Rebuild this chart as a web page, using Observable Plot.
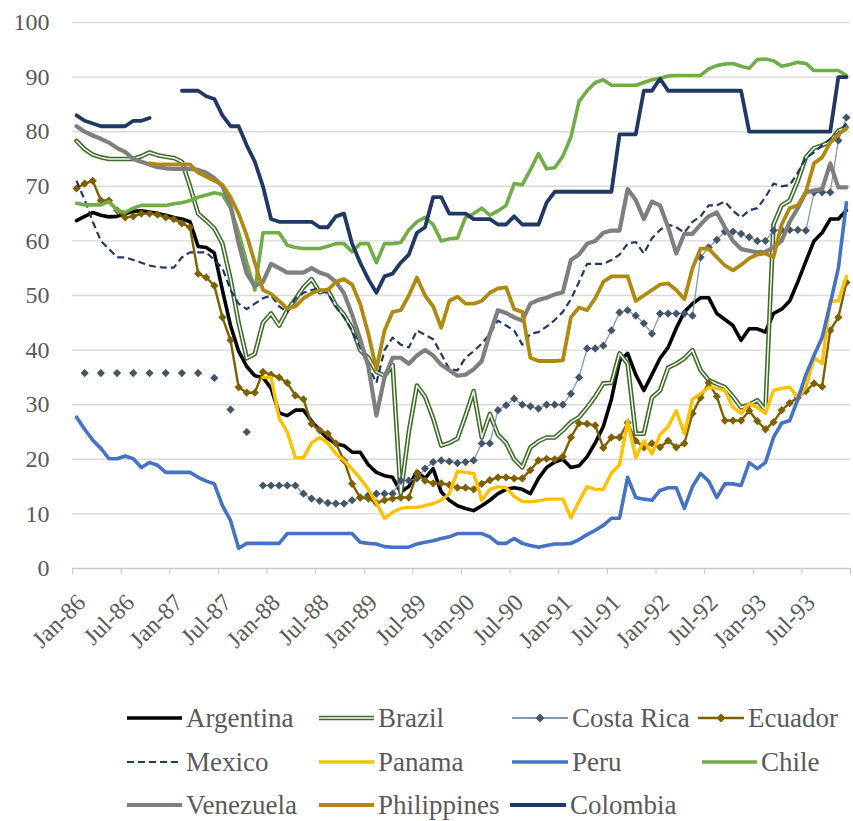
<!DOCTYPE html>
<html>
<head>
<meta charset="utf-8">
<script src="https://cdn.jsdelivr.net/npm/d3@7"></script>
<script src="https://cdn.jsdelivr.net/npm/@observablehq/plot@0.6"></script>
<style>
  html, body { margin: 0; padding: 0; background: #fff; }
  #wrap { width: 853px; height: 821px; position: relative; overflow: hidden; font-family: "Liberation Serif", "Times New Roman", serif; }
  #legend { position: relative; width: 853px; height: 161px; color: #595959; }
  .entry { position: absolute; display: flex; align-items: center; height: 34px; font-size: 27px; white-space: nowrap; }
  .entry svg { display: block; margin-right: 3px; }
</style>
</head>
<body>
<div id="wrap"><div id="chart"></div><div id="legend"></div></div>
<script>
// Tick labels on the category axis (every 6 months, Jan-86 .. Jul-93)
const tickLabels = ["Jan-86","Jul-86","Jan-87","Jul-87","Jan-88","Jul-88","Jan-89","Jul-89","Jan-90","Jul-90","Jan-91","Jul-91","Jan-92","Jul-92","Jan-93","Jul-93"];
const yTicks = [0,10,20,30,40,50,60,70,80,90,100];
const seriesNames = ["Argentina","Brazil","Costa Rica","Ecuador","Mexico","Panama","Peru","Chile","Venezuela","Philippines","Colombia"];

// Monthly values, Jan-86 .. Dec-93 (96 months); null = no observation
const argentina = [63.7,64.5,65.2,64.7,64.4,64.5,65,65.4,65.5,65.3, 65,64.7,64.3,64,63.5,59,58.8,57.8,51,44.5, 39.8,37,35.3,35,33,28.5,28,29,29,27, 25.3,23.8,22.9,22.5,21.3,21.3,19,17.6,17,16.7, 14,15,17.8,16.5,18.3,14,12.5,11.5,11,10.6, 11.5,12.5,13.7,14.5,14.8,14.5,13.7,16.5,18.5,19.5, 20,18.5,18.8,20.5,23,26,31,38,39.4,35.5, 32.6,35.5,38.5,40.5,44,47,48.5,49.6,49.6,46.7, 45.6,44.5,41.8,43.9,43.9,43.3,46.7,47.5,49,52.5, 56.3,60,61.5,64,64,65.6];
const brazil = [78.3,76.8,75.8,75.3,75,75,75,75,75.5,76.2, 75.7,75.4,75.2,74.5,70,65,63.7,62.3,59.5,53, 45,38.5,39.3,45,46.7,44.5,47.3,49.3,51.5,53, 50.6,51,48.2,46.5,44,40,38.6,36,35.3,37.3, 13.7,25,33.5,31.5,27.5,22.5,23,23.8,28,32.5, 24,28.3,24.5,23,20,18.5,22.2,23.3,24,24, 25.3,26.8,27.7,29.5,31.5,33.9,34,39.4,37.5,24.7, 24.7,31.3,32.6,36.8,37.5,38.5,40,36.3,34.5,33.8, 33.2,31.5,29.5,30,30.8,29,63,66.5,67.4,71, 75.3,77,77.5,78.2,80.2,80.8];
const costaRica = [null,35.8,null,35.8,null,35.8,null,35.8,null,35.8, null,35.8,null,35.8,null,35.8,null,34.9,null,29.1, null,25,null,15.2,15.2,15.2,15.2,15.2,13.7,12.8, 12.4,12,11.9,11.9,12.5,13,13.4,13.7,13.7,13.7, 16.1,16.1,16.5,18.3,19.5,19.8,19.6,19.3,19.5,19.8, 22.9,22.9,29,29.9,31.1,30,29.7,29.3,30,30, 30,32,35,40.3,40.3,40.8,43.6,46.9,47.3,46.3, 44.9,43,46.7,46.7,46.7,46.7,46.3,57,58.8,60.2, 61.7,61.7,61.3,60.7,60,60,61.9,62,62,62, 61.9,68.9,68.9,68.9,78.4,82.6];
const ecuador = [69.6,70.5,71,67.4,67.4,65.6,64.3,64.5,65,65, 64.8,64.3,64,63.2,62.5,54,53.3,51.8,46,41.8, 33.2,32.2,32.2,36,35.5,35,34,31.7,31,26.5, 25.3,24.7,22.9,19.8,15.5,13,12.8,12,12.5,12.8, 13,13,17.4,16.1,15.6,15.6,15.3,14.8,14.8,14.5, 15.5,16.2,16.7,16.7,16.5,16.5,18,19.8,20.1,20, 20.5,24,26.6,26.5,26.2,22.1,24,24,26.7,23.4, 22.2,22.9,22.2,23.4,22.2,22.9,28.4,31.3,34,31.5, 27.1,27.1,27.1,28.9,27,25.5,26.8,29,30.3,31.3, 32.5,33.9,33.3,43.6,46,52.4];
const mexico = [71,67.5,63.5,60,58.5,57,57,56.5,56,55.5, 55.2,55.1,55.1,57,57.9,57.9,57.9,56.5,55,51, 48.5,47.5,48.5,49.5,50,48,47,49.5,50.5,51, 51.3,50.3,48,46,43.5,40.5,37,34,40,42.3, 41,40.5,43.6,42.8,42,39.3,36.5,36.3,38.6,39.8, 41.2,43,45.4,44.5,43.6,41,43,43.3,44.3,45.5, 47,49.3,52.5,55.8,55.8,55.8,56.5,57.5,59.5,59.8, 57.7,60.5,62,63,62.5,61.5,63.5,64.5,66.5,66.5, 67.2,65.5,64.3,65.6,66,68,70.5,70,70.2,72.5, 75.2,76.2,77.5,78.7,79.8,81.5];
const panama = [null,null,null,null,null,null,null,null,null,null, null,null,null,null,null,null,null,null,null,null, null,null,null,35,35,27.5,25,20.3,20.3,23, 24,23,21,19.8,18.2,16.5,14.5,12,9.2,10.3, 11,11.2,11.2,11.5,11.9,12.5,13.7,17.8,17.6,17.4, 12.5,14.5,15,14.8,13.2,12.3,12.2,12.4,12.7,12.7, 12.7,9.3,12.3,15,14.5,14.5,17.5,19,27,20.3, 23.4,21,24.5,26,28.9,24.7,31,32,33.2,33, 32.6,29.5,28.4,30.2,29.5,28.4,32.6,33,33.2,31.3, 33.2,38.6,37.5,49,49,53.5];
const peru = [27.7,25.5,23.5,22,20.1,20.1,20.6,20.1,18.5,19.4, 18.9,17.6,17.6,17.6,17.6,16.7,16,15.5,11.5,8.8, 3.7,4.6,4.6,4.6,4.6,4.6,6.4,6.4,6.4,6.4, 6.4,6.4,6.4,6.4,6.4,4.8,4.6,4.5,4,3.9, 3.9,3.9,4.5,4.8,5.1,5.5,5.8,6.4,6.4,6.4, 6.4,5.8,4.6,4.6,5.5,4.6,4.2,3.9,4.2,4.5, 4.5,4.6,5.3,6.2,7,7.9,9.2,9.2,16.7,13, 12.7,12.5,14.3,14.8,14.8,11,15,17.4,16,13, 15.5,15.5,15.2,19.4,18.3,19.4,24,26.6,27.1,31, 35.5,39,42.3,48.5,55,67];
const chile = [66.9,66.6,66.6,66.6,67.2,65.6,65.2,66,66.5,66.5, 66.5,66.5,66.8,67,67.4,68,68.4,68.8,68.5,66, 61.5,56,51,61.5,61.5,61.5,59.2,58.8,58.6,58.6, 58.6,59,59.5,59.5,58,59.5,59.5,56,59.5,59.5, 59.7,62,63.5,64.3,63,60,60.4,60.5,64.3,65, 66,64.7,65.5,66.5,70.5,70.3,73,76,73.2,73.4, 75.5,79,85.5,87.5,89,89.5,88.5,88.5,88.5,88.5, 89,89.5,89.8,90.2,90.3,90.3,90.3,90.3,91.5,92.1, 92.4,92.5,92,91.6,93.2,93.3,93,92,92.3,92.7, 92.5,91.2,91.2,91.2,91.2,90.3];
const venezuela = [81,80,79.3,78.7,78,77,76.3,75,74.5,74, 73.5,73.3,73.2,73.2,73.2,73,72.5,71.5,70,66.5, 59.5,54,51.7,52.5,55.8,55,54.2,54.2,54.2,55, 54.2,53.7,52.5,50.4,46.5,42,37,28,35,38.6, 38.6,37.5,39,40,39,37.3,36.3,35.3,35.5,36.5, 38,43,47.3,46.8,46,45.4,48.5,49.2,49.6,50.2, 50.6,56.5,57.5,59.5,60,61.5,61.9,61.9,69.5,67.5, 64,67.2,66.5,62.5,57.7,61.3,61.3,63,64.5,65.2, 62.5,60,58.5,58.2,57.9,58,58.8,60,63.5,66, 68.9,69.2,69.5,74.2,69.8,69.8];
const philippines = [null,null,null,null,null,null,null,null,null,74.2, 74,74,74,74,74,72.5,71.8,71,70.3,68, 65,61,56,51,50.3,49,47.6,48,49.5,50.4, 51,51,52.5,53,52,48.5,43,36.5,43.6,47, 47.3,50,53.3,50,48,44.1,49,49.8,48.5,48.5, 49,50.5,51.3,51.5,47.5,47,38.6,38,38,38, 38.1,46,47.8,47.3,49.5,52.5,53.5,53.5,53.5,49, 50,51,52,52.2,51,49.3,55,58.6,58.6,57, 55.5,54.6,55.6,56.8,57.5,57.7,57,63,66,66.5, 69,74.2,75.3,78,79.5,80.6];
const colombia = [83,82,81.5,81,81,81,81,82,82,82.5, null,null,null,87.5,87.5,87.5,86.5,86,83,81, 81,77.5,74.5,70,64,63.5,63.5,63.5,63.5,63.5, 62.5,62.5,64.5,65,59.5,56,53,50.5,53.5,54, 56,57.5,61.5,62.5,68,68,65,65,65,64, 64,64,63,63,64.5,63,63,63,67,69, 69,69,69,69,69,69,69,79.5,79.5,79.5, 87.5,87.5,89.7,87.5,87.5,87.5,87.5,87.5,87.5,87.5, 87.5,87.5,87.5,80,80,80,80,80,80,80, 80,80,80,80,90,90];

const values = [argentina, brazil, costaRica, ecuador, mexico, panama, peru, chile, venezuela, philippines, colombia];

// styles per series (same order as seriesNames)
const styles = {
  "Argentina":   {stroke: "#000000", width: 3.6},
  "Brazil":      {stroke: "#3E6B2A", width: 4.6, inner: "#F4F9F0", innerWidth: 1.5},
  "Costa Rica":  {stroke: "#8497B0", width: 1.3, marker: "#44546A"},
  "Ecuador":     {stroke: "#7F6000", width: 2.4, marker: "#7F6000"},
  "Mexico":      {stroke: "#1F3864", width: 2.2, dash: "7,4"},
  "Panama":      {stroke: "#FFC000", width: 3.4},
  "Peru":        {stroke: "#4472C4", width: 3.6},
  "Chile":       {stroke: "#70AD47", width: 3.6},
  "Venezuela":   {stroke: "#7F7F7F", width: 4.2},
  "Philippines": {stroke: "#B08A10", width: 3.8},
  "Colombia":    {stroke: "#203864", width: 3.8}
};

const FONT = '"Liberation Serif", "Times New Roman", serif';
const N = argentina.length;
const boundaries = d3.range(0, N + 1, 6).map(d => d - 0.5);
const labelIdx = tickLabels.map((_, k) => k * 6);

const seriesMarks = [];
seriesNames.forEach((name, s) => {
  const st = styles[name];
  const data = values[s].map((v, i) => ({i, v}));
  seriesMarks.push(Plot.line(data, {x: "i", y: "v", stroke: st.stroke, strokeWidth: st.width,
    strokeDasharray: st.dash, strokeLinejoin: "round", strokeLinecap: st.dash ? "butt" : "round"}));
  if (st.inner) seriesMarks.push(Plot.line(data, {x: "i", y: "v", stroke: st.inner, strokeWidth: st.innerWidth}));
  if (st.marker) seriesMarks.push(Plot.dot(data.filter(d => d.v != null), {x: "i", y: "v", symbol: "diamond2", r: 3.7, fill: st.marker, stroke: "none"}));
});

const chart = Plot.plot({
  width: 853,
  height: 660,
  marginLeft: 72,
  marginRight: 3,
  marginTop: 22,
  marginBottom: 92,
  style: {fontFamily: FONT, fontSize: "24px", color: "#595959", background: "#fff", overflow: "visible"},
  x: {domain: [-0.5, N - 0.5], label: null},
  y: {domain: [0, 100], label: null},
  marks: [
    Plot.gridY(yTicks.filter(d => d > 0), {stroke: "#D9D9D9", strokeOpacity: 1, strokeWidth: 1.4}),
    Plot.axisY(yTicks, {tickSize: 0, tickPadding: 23, fontSize: 24, fontFamily: FONT, label: null}),
    Plot.ruleY([0], {stroke: "#C8C8C8", strokeWidth: 1.4}),
    Plot.axisX(boundaries, {tickSize: 6, tickFormat: () => "", stroke: "#C8C8C8", label: null}),
    Plot.text(labelIdx, {x: d => d, y: 0, text: (d, k) => tickLabels[k], rotate: -45, textAnchor: "end",
      dx: 5, dy: 30, fontSize: 24, fontFamily: FONT, fill: "#595959"}),
    ...seriesMarks
  ]
});
document.getElementById("chart").appendChild(chart);

// Legend (HTML below the SVG)
const legendLayout = [
  ["Argentina", 0, 126, 57], ["Brazil", 0, 318, 57], ["Costa Rica", 0, 511, 58], ["Ecuador", 0, 697, 48],
  ["Mexico", 1, 126, 57], ["Panama", 1, 318, 57], ["Peru", 1, 511, 58], ["Chile", 1, 701, 57],
  ["Venezuela", 2, 126, 57], ["Philippines", 2, 318, 57], ["Colombia", 2, 509, 58]
];
const rowTop = [41, 85, 128];
const legend = document.getElementById("legend");
const ns = "http://www.w3.org/2000/svg";
legendLayout.forEach(([name, row, x, w]) => {
  const st = styles[name];
  const div = document.createElement("div");
  div.className = "entry";
  div.style.left = x + "px";
  div.style.top = rowTop[row] + "px";
  div.style.fontFamily = FONT;
  const svg = document.createElementNS(ns, "svg");
  svg.setAttribute("width", w); svg.setAttribute("height", 14);
  const mk = (stroke, width, dash) => {
    const l = document.createElementNS(ns, "line");
    l.setAttribute("x1", 1); l.setAttribute("x2", w - 1); l.setAttribute("y1", 7); l.setAttribute("y2", 7);
    l.setAttribute("stroke", stroke); l.setAttribute("stroke-width", width);
    if (dash) l.setAttribute("stroke-dasharray", dash);
    svg.appendChild(l);
  };
  mk(st.stroke, Math.max(st.width, 2), st.dash);
  if (st.inner) mk(st.inner, st.innerWidth);
  if (st.marker) {
    const p = document.createElementNS(ns, "path");
    const c = w / 2, r = 4.5;
    p.setAttribute("d", `M${c},${7 - r}L${c + r},7L${c},${7 + r}L${c - r},7Z`);
    p.setAttribute("fill", st.marker);
    svg.appendChild(p);
  }
  div.appendChild(svg);
  const span = document.createElement("span");
  span.textContent = name;
  div.appendChild(span);
  legend.appendChild(div);
});
</script>
</body>
</html>
